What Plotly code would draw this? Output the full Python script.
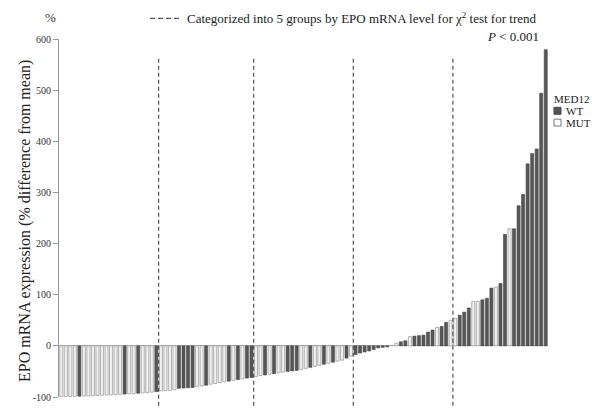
import plotly.graph_objects as go

# EPO mRNA expression (% difference from mean), sorted ascending
values = [
    -99.5, -99.3, -99.0, -98.8, -98.5, -98.2, -97.8, -97.5, -97.0, -96.6, -96.2,
    -95.8, -95.3, -94.8, -94.3, -93.8, -93.3, -92.7, -92.0, -91.3, -90.5, -89.5,
    -88.0, -87.5, -87.0, -86.0, -83.0, -82.5, -82.0, -81.5, -80.0, -78.5, -77.0,
    -75.0, -73.5, -72.0, -70.5, -69.0, -67.5, -66.0, -64.5, -63.0, -62.0,
    -60.0, -58.0, -57.0, -55.5, -54.5, -53.0, -51.5, -50.0, -49.0, -48.0, -46.0,
    -44.0, -42.0, -40.0, -38.0, -36.0, -34.0, -32.0, -30.0, -28.0, -24.0, -20.0,
    -17.0, -14.0, -12.0, -10.0, -7.0, -4.0, -3.0, -2.0, 1.0, 5.0, 8.0, 10.0,
    18.0, 19.0, 20.0, 21.0, 27.0, 31.0, 36.0, 38.0, 46.0, 50.0,
    54.0, 60.0, 66.0, 74.0, 87.0, 87.0, 90.0, 93.0, 113.0, 115.0, 122.0,
    218.0, 229.0, 229.0, 274.0, 296.0, 356.0, 376.0, 385.0, 494.0, 579.0,
]

status = (
    ["MUT"] * 4 + ["WT"] + ["MUT"] * 9 + ["WT"] + ["MUT"] * 2 + ["WT"] + ["MUT"] * 3 + ["WT"]
    + ["MUT"] * 4 + ["WT"] * 4 + ["MUT"] * 2 + ["WT"] + ["MUT"] * 4 + ["WT"] + ["MUT"] + ["WT"] + ["MUT"] + ["WT"] * 2
    + ["MUT"] * 2 + ["WT"] + ["MUT"] + ["WT"] + ["MUT"] * 2 + ["WT"] * 3 + ["MUT"] * 2 + ["WT"] + ["MUT"] * 2
    + ["WT"] + ["MUT"] + ["WT"] + ["MUT"] * 2 + ["WT"] + ["MUT"]
    + ["WT"] * 8 + ["MUT"] * 2 + ["WT"] * 2 + ["MUT"] + ["WT"] * 5 + ["MUT"] + ["WT"] * 2 + ["MUT"]
    + ["MUT"] + ["WT"] * 3 + ["MUT"] * 2 + ["WT"] * 3 + ["MUT"] + ["WT"] * 2 + ["MUT"] + ["WT"] * 8
)

group_bounds = [21.5, 42.5, 64.5, 86.5]  # quintile boundaries (between sample ranks)
y_ticks = [-100, 0, 100, 200, 300, 400, 500, 600]

idx = list(range(len(values)))
wt_x = [i for i in idx if status[i] == "WT"]
wt_y = [values[i] for i in wt_x]
mut_x = [i for i in idx if status[i] == "MUT"]
mut_y = [values[i] for i in mut_x]

FONT = "Liberation Serif, Times New Roman, serif"
DARK = "#565656"
LIGHT = "#f0f0f0"

L, R, T, B = 59, 548, 39, 403
PW, PH = R - L, B - T


def px(xp):
    return (xp - L) / PW


def py(yp):
    return (B - yp) / PH


fig = go.Figure()
fig.add_trace(go.Bar(x=mut_x, y=mut_y, name="MUT", marker=dict(color=LIGHT, line=dict(color="#a0a0a0", width=0.8)),
                     width=0.68, showlegend=False))
fig.add_trace(go.Bar(x=wt_x, y=wt_y, name="WT", marker=dict(color=DARK, line=dict(color="#4a4a4a", width=0.6)),
                     width=0.68, showlegend=False))

for b in group_bounds:
    fig.add_shape(type="line", xref="x", yref="paper", x0=b, x1=b, y0=py(412), y1=py(59),
                  line=dict(color="#555555", width=1.2, dash="4px,3px"))

# header legend for dashed line
fig.add_shape(type="line", xref="paper", yref="paper", x0=px(150), x1=px(182),
              y0=py(18), y1=py(18), line=dict(color="#555555", width=1.2, dash="5px,3px"))
fig.add_annotation(xref="paper", yref="paper", x=px(185), y=py(18), xanchor="left", yanchor="middle",
                   text="Categorized into 5 groups by EPO mRNA level for χ<sup>2</sup> test for trend",
                   showarrow=False, font=dict(family=FONT, size=13, color="#222"))
fig.add_annotation(xref="paper", yref="paper", x=px(541), y=py(36), xanchor="right", yanchor="middle",
                   text="<i>P</i> < 0.001", showarrow=False, font=dict(family=FONT, size=13, color="#222"))
fig.add_annotation(xref="paper", yref="paper", x=px(50), y=py(17), xanchor="center", yanchor="middle",
                   text="%", showarrow=False, font=dict(family=FONT, size=13, color="#333"))
fig.add_annotation(xref="paper", yref="paper", x=px(25), y=py(224), xanchor="center", yanchor="middle",
                   text="EPO mRNA expression (% difference from mean)", textangle=-90,
                   showarrow=False, font=dict(family=FONT, size=16, color="#222"))

# MED12 legend
fig.add_annotation(xref="paper", yref="paper", x=px(552), y=py(100), xanchor="left", yanchor="middle",
                   text="MED12", showarrow=False, font=dict(family=FONT, size=11, color="#222"))
for k, (lab, col, lc) in enumerate([("WT", DARK, "#444"), ("MUT", "#ffffff", "#777")]):
    yc = 112 + 12 * k
    fig.add_shape(type="rect", xref="paper", yref="paper", x0=px(554), x1=px(561),
                  y0=py(yc + 3.5), y1=py(yc - 3.5),
                  fillcolor=col, line=dict(color=lc, width=1))
    fig.add_annotation(xref="paper", yref="paper", x=px(564), y=py(yc), xanchor="left",
                       yanchor="middle", text=lab, showarrow=False, font=dict(family=FONT, size=11, color="#222"))

fig.update_layout(
    width=592, height=410,
    margin=dict(l=L, r=592 - R, t=T, b=410 - B),
    paper_bgcolor="white", plot_bgcolor="white",
    barmode="overlay",
    showlegend=False,
    font=dict(family=FONT, color="#333"),
)
fig.update_xaxes(range=[-0.5, len(values) - 0.5], visible=False)
fig.update_yaxes(range=[-100, 600], tickvals=y_ticks, ticktext=[str(v) for v in y_ticks],
                 ticks="outside", ticklen=5, tickcolor="#999", tickwidth=1,
                 showline=True, linecolor="#999", linewidth=1,
                 showgrid=False, zeroline=True, zerolinecolor="#aaa", zerolinewidth=1,
                 tickfont=dict(family=FONT, size=10, color="#333"))

fig.write_html("out.html", config={"displayModeBar": False},
               post_script="document.body.style.margin='0';document.body.style.overflow='hidden';")
